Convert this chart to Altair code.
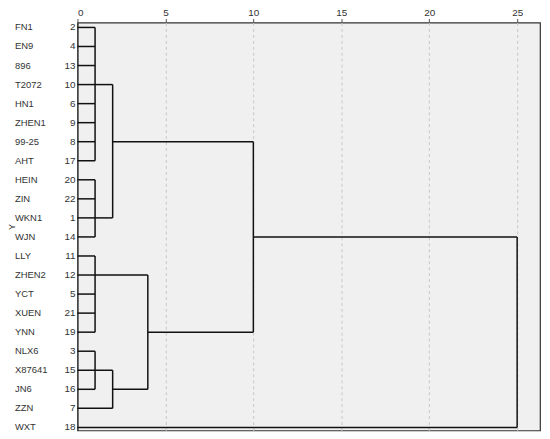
import altair as alt
import pandas as pd

# ---- data ----
names = ["FN1", "EN9", "896", "T2072", "HN1", "ZHEN1", "99-25", "AHT", "HEIN", "ZIN",
         "WKN1", "WJN", "LLY", "ZHEN2", "YCT", "XUEN", "YNN", "NLX6", "X87641", "JN6",
         "ZZN", "WXT"]
case_ids = [2, 4, 13, 10, 6, 9, 8, 17, 20, 22, 1, 14, 11, 12, 5, 21, 19, 3, 15, 16, 7, 18]

# cluster merges (leaf "L<row>", cluster "C<merge index>")
merge_members = [
    ["L0", "L1", "L2", "L3", "L4", "L5", "L6", "L7"],
    ["L8", "L9", "L10", "L11"],
    ["C0", "C1"],
    ["L12", "L13", "L14", "L15", "L16"],
    ["L17", "L18", "L19"],
    ["C4", "L20"],
    ["C3", "C5"],
    ["C2", "C6"],
    ["C7", "L21"],
]
merge_dist = [1, 1, 2, 1, 1, 2, 4, 10, 25]
merge_out_row = [3, 10, 6, 13, 18, 19, 16, 11, 16]

x_ticks = [0, 5, 10, 15, 20, 25]
axis_title = ["Y"]

# ---- build segments ----
nodes = {f"L{i}": (i, 0.0) for i in range(len(names))}
segs = []
for k, members in enumerate(merge_members):
    d = merge_dist[k]
    rows = []
    for m in members:
        r, x0 = nodes[m]
        rows.append(r)
        segs.append({"x": x0, "x2": d, "y": r, "y2": r})
    segs.append({"x": d, "x2": d, "y": min(rows), "y2": max(rows)})
    nodes[f"C{k}"] = (merge_out_row[k], d)
seg_df = pd.DataFrame(segs)

leaf_df = pd.DataFrame({"name": names, "case": [str(c) for c in case_ids],
                        "row": list(range(len(names)))})

FONT = "Liberation Sans"
xscale = alt.Scale(domain=[0, 26.3], nice=False, zero=False)
yscale = alt.Scale(domain=[-0.26, 21.16], reverse=True, nice=False, zero=False)

lines = alt.Chart(seg_df).mark_rule(color="#111", strokeWidth=1.5).encode(
    x=alt.X("x:Q", scale=xscale,
            axis=alt.Axis(orient="top", values=x_ticks, title=None, format="d",
                          grid=True,
                          gridDash={"condition": {"test": "datum.value == 0", "value": []},
                                    "value": [3, 3]},
                          gridColor={"condition": {"test": "datum.value == 0", "value": "#333"},
                                     "value": "#c8c8c8"},
                          domain=False, tickSize=4, tickColor="#555",
                          labelFont=FONT, labelFontSize=10, labelColor="#333",
                          labelPadding=1)),
    x2="x2:Q",
    y=alt.Y("y:Q", scale=yscale, axis=None),
    y2="y2:Q",
)

name_text = alt.Chart(leaf_df).mark_text(
    align="left", baseline="middle", font=FONT, fontSize=9.5, color="#333"
).encode(
    x=alt.value(-63),
    y=alt.Y("row:Q", scale=yscale),
    text="name:N",
)

case_text = alt.Chart(leaf_df).mark_text(
    align="right", baseline="middle", font=FONT, fontSize=10, color="#333"
).encode(
    x=alt.value(-2),
    y=alt.Y("row:Q", scale=yscale),
    text="case:N",
)

title_text = alt.Chart(pd.DataFrame({"t": axis_title})).mark_text(
    align="center", baseline="middle", font=FONT, fontSize=9, color="#333", angle=270
).encode(
    x=alt.value(-66),
    y=alt.value(206),
    text="t:N",
)

chart = alt.layer(lines, name_text, case_text, title_text).properties(
    width=466, height=411,
    autosize=alt.AutoSizeParams(type="none"),
    padding={"left": 70, "top": 13, "right": 2, "bottom": 2},
    background="white",
).configure_view(
    fill="#f0f0f0", stroke="#333", strokeWidth=1.2
)

chart.save("out.html", embed_options={"renderer": "svg", "actions": False})
